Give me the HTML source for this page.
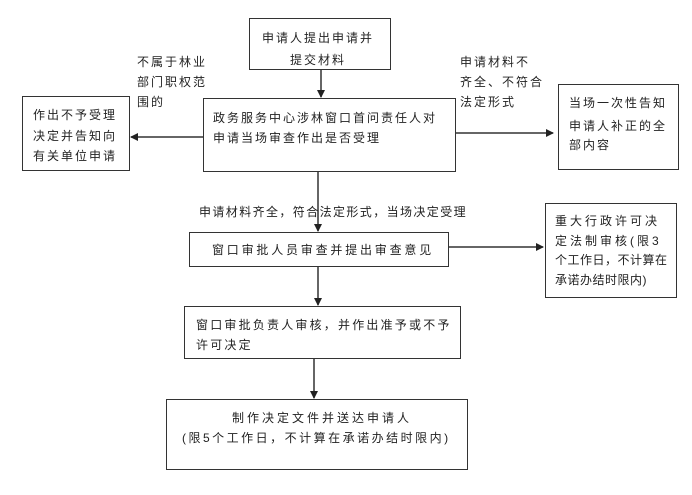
<!DOCTYPE html>
<html><head><meta charset="utf-8"><style>
body{margin:0;width:692px;height:495px;background:#fff;position:relative;overflow:hidden;font-family:"Liberation Sans","Noto Sans CJK SC",sans-serif;color:#222;font-size:12px}
.b{position:absolute;border:1.5px solid #333;box-sizing:border-box}
.t{position:absolute;white-space:nowrap;letter-spacing:2px;line-height:20px}
svg{position:absolute;left:0;top:0}
</style></head><body>
<div class="b" style="left:249px;top:18px;width:142px;height:52px"></div>
<div class="t" style="left:262px;top:28px">申请人提出申请并</div>
<div class="t" style="left:290px;top:50px">提交材料</div>

<div class="b" style="left:203px;top:98px;width:253px;height:74px"></div>
<div class="t" style="left:213px;top:108px">政务服务中心涉林窗口首问责任人对</div>
<div class="t" style="left:213px;top:128px">申请当场审查作出是否受理</div>

<div class="b" style="left:22px;top:96px;width:108px;height:75px"></div>
<div class="t" style="left:33px;top:105px">作出不予受理</div>
<div class="t" style="left:33px;top:126px">决定并告知向</div>
<div class="t" style="left:33px;top:146px">有关单位申请</div>

<div class="b" style="left:558px;top:84px;width:121px;height:86px"></div>
<div class="t" style="left:569px;top:93px">当场一次性告知</div>
<div class="t" style="left:569px;top:116px">申请人补正的全</div>
<div class="t" style="left:569px;top:135px">部内容</div>

<div class="t" style="left:137px;top:52px">不属于林业</div>
<div class="t" style="left:137px;top:72px">部门职权范</div>
<div class="t" style="left:137px;top:92px">围的</div>

<div class="t" style="left:460px;top:52px">申请材料不</div>
<div class="t" style="left:460px;top:72px">齐全、不符合</div>
<div class="t" style="left:460px;top:92px">法定形式</div>

<div class="t" style="left:199px;top:202px;letter-spacing:1.4px">申请材料齐全，符合法定形式，当场决定受理</div>

<div class="b" style="left:189px;top:232px;width:260px;height:35px"></div>
<div class="t" style="left:212px;top:240px;letter-spacing:2.8px">窗口审批人员审查并提出审查意见</div>

<div class="b" style="left:545px;top:203px;width:132px;height:95px"></div>
<div class="t" style="left:555px;top:211px;letter-spacing:3px">重大行政许可决</div>
<div class="t" style="left:555px;top:231px;letter-spacing:3px">定法制审核(限3</div>
<div class="t" style="left:555px;top:250px;letter-spacing:0.5px">个工作日，不计算在</div>
<div class="t" style="left:555px;top:270px;letter-spacing:0.5px">承诺办结时限内)</div>

<div class="b" style="left:184px;top:306px;width:277px;height:53px"></div>
<div class="t" style="left:196px;top:315px;letter-spacing:2.2px">窗口审批负责人审核，并作出准予或不予</div>
<div class="t" style="left:196px;top:335px;letter-spacing:2.2px">许可决定</div>

<div class="b" style="left:166px;top:399px;width:302px;height:71px"></div>
<div class="t" style="left:232px;top:408px;letter-spacing:3px">制作决定文件并送达申请人</div>
<div class="t" style="left:182px;top:428px;letter-spacing:2.5px">(限5个工作日，不计算在承诺办结时限内)</div>

<svg width="692" height="495">
<defs><marker id="a" markerWidth="8" markerHeight="8" refX="7" refY="4" orient="auto" markerUnits="userSpaceOnUse"><path d="M0,0 L8,4 L0,8z" fill="#222"/></marker></defs>
<g stroke="#333" stroke-width="1.5" fill="none">
<line x1="321" y1="70" x2="321" y2="97" marker-end="url(#a)"/>
<line x1="203" y1="137" x2="131" y2="137" marker-end="url(#a)"/>
<line x1="456" y1="133" x2="553" y2="133" marker-end="url(#a)"/>
<line x1="318" y1="172" x2="318" y2="231" marker-end="url(#a)"/>
<line x1="449" y1="247" x2="543" y2="247" marker-end="url(#a)"/>
<line x1="318" y1="267" x2="318" y2="305" marker-end="url(#a)"/>
<line x1="314" y1="359" x2="314" y2="398" marker-end="url(#a)"/>
</g></svg>
</body></html>
